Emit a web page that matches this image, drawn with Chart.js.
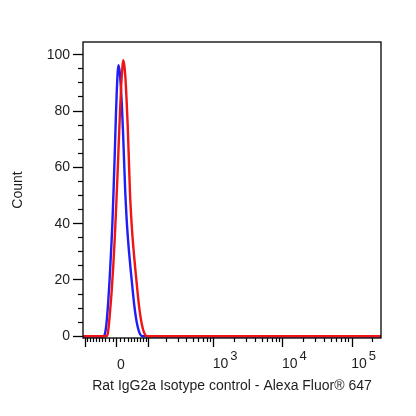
<!DOCTYPE html>
<html>
<head>
<meta charset="utf-8">
<script src="https://cdn.jsdelivr.net/npm/chart.js@4/dist/chart.umd.min.js"></script>
<style>
html, body { margin: 0; padding: 0; background: #fff; }
canvas { display: block; }
</style>
</head>
<body>
<canvas id="chart" width="416" height="416" style="width:416px;height:416px"></canvas>
<script>
// histogram channels in display units (asinh scale, 1 unit ~ 1 decade, 0 = zero intensity)
// counts are % of max
const blueX = [-0.2023, -0.1806, -0.1618, -0.1445, -0.1257, -0.1069, -0.0867, -0.0665, -0.0477,
               -0.0318, -0.0173, -0.0014, 0.0217, 0.0390, 0.0549, 0.0708, 0.0867, 0.1040,
               0.1199, 0.1373, 0.1561, 0.1777, 0.2023, 0.2283, 0.2500, 0.2717, 0.2934,
               0.3223, 0.3512, 0.3728];
const blueY = [0, 0.4, 2.5, 6.5, 12.5, 20, 29.5, 40, 53,
               65, 77, 88, 96.3, 94, 89, 82, 73, 61.5,
               51, 42.5, 35.5, 29, 22.5, 16, 11, 7, 4,
               1.4, 0.2, 0];
const redX = [-0.1590, -0.1373, -0.1185, -0.1012, -0.0766, -0.0535, -0.0318, -0.0116, 0.0072,
              0.0260, 0.0434, 0.0621, 0.0766, 0.0896, 0.1069, 0.1228, 0.1387, 0.1546,
              0.1720, 0.1879, 0.2052, 0.2240, 0.2457, 0.2702, 0.2962, 0.3179, 0.3396,
              0.3613, 0.3902, 0.4191, 0.4408];
const redY = [0, 0.5, 3.8, 8.5, 16, 25, 35, 46, 57,
              69, 79.5, 89.5, 95, 98, 96, 91.5, 84, 75,
              62.5, 51, 42.5, 35.5, 29, 22.5, 16, 11, 7,
              4, 1.4, 0.2, 0];

const yTicks = [0, 20, 40, 60, 80, 100];
const xMajor = [-100, 0, 100, 1000, 10000, 100000];
const xLabelValues = [0, 1000, 10000, 100000];
const xLabelBase = ["0", "10", "10", "10"];
const xLabelExp = ["", "3", "4", "5"];

const X_MIN = -0.491, X_MAX = 3.815;
const Y_MIN = -0.6, Y_MAX = 104.5;
const COF = 80;
const FONT = '"Liberation Sans", Arial, sans-serif';
const TEXT = '#1e1e1e';

function disp(v) {
    return Math.asinh(v / COF) / Math.LN10;
}

// minor ticks
let yMinor = [];
for (let v = 5; v < 105; v += 5) {
    if (v % 20 !== 0) yMinor.push(v);
}
let xMinor = [];
for (let k = 1; k <= 9; k++) { xMinor.push(k * 10); xMinor.push(-k * 10); }
[100, 1000, 10000, 100000].forEach(d => {
    for (let k = 2; k <= 9; k++) xMinor.push(k * d);
});

function series(xs, ys) {
    const pts = xs.map((x, i) => ({x: x, y: ys[i]}));
    return [{x: X_MIN, y: 0}].concat(pts, [{x: X_MAX, y: 0}]);
}

function setTicks(list) {
    return function(scale) {
        scale.ticks = list.filter(v => v >= scale.min && v <= scale.max).map(v => ({value: v}));
    };
}

const framePlugin = {
    id: 'frame',
    afterDraw(chart) {
        const ctx = chart.ctx;
        const a = chart.chartArea;
        const xs = chart.scales.x;
        ctx.save();
        ctx.strokeStyle = '#000';
        ctx.lineWidth = 1.3;
        ctx.strokeRect(a.left, a.top, a.right - a.left, a.bottom - a.top);

        ctx.fillStyle = TEXT;
        ctx.textBaseline = 'alphabetic';
        xLabelValues.forEach((v, i) => {
            const px = xs.getPixelForValue(disp(v));
            ctx.font = '14px ' + FONT;
            if (xLabelExp[i] === '') {
                ctx.textAlign = 'center';
                ctx.fillText(xLabelBase[i], px + 4, xs.top + 31);
            } else {
                ctx.textAlign = 'left';
                ctx.fillText(xLabelBase[i], px - 1, xs.top + 30);
                const w = ctx.measureText(xLabelBase[i]).width;
                ctx.font = '13px ' + FONT;
                ctx.fillText(xLabelExp[i], px + w + 1, xs.top + 22);
            }
        });
        ctx.restore();
    }
};

Chart.defaults.font.family = FONT;
Chart.defaults.color = TEXT;

const ctx = document.getElementById('chart').getContext('2d');
new Chart(ctx, {
    type: 'line',
    data: {
        datasets: [{
            data: series(redX, redY),
            borderColor: 'rgb(240,20,20)',
            borderWidth: 2.4,
            pointRadius: 0,
            fill: false,
            cubicInterpolationMode: 'monotone'
        }, {
            data: series(blueX, blueY),
            borderColor: 'rgb(30,30,245)',
            borderWidth: 2.4,
            pointRadius: 0,
            fill: false,
            cubicInterpolationMode: 'monotone'
        }]
    },
    options: {
        responsive: false,
        animation: false,
        layout: { padding: { top: 42, right: 35, left: 0, bottom: 0 } },
        plugins: { legend: { display: false }, tooltip: { enabled: false } },
        scales: {
            x: {
                type: 'linear', position: 'bottom', weight: 1,
                min: X_MIN, max: X_MAX,
                afterFit: s => { s.height = 78; },
                afterBuildTicks: setTicks(xMajor.map(disp)),
                ticks: { display: false },
                grid: { drawOnChartArea: false, drawTicks: true, tickLength: 9, tickColor: '#000', tickWidth: 1.3 },
                border: { display: false },
                title: {
                    display: true,
                    text: 'Rat IgG2a Isotype control - Alexa Fluor® 647',
                    font: { size: 14 },
                    color: TEXT,
                    padding: { top: 0, bottom: 21 }
                }
            },
            xMinor: {
                type: 'linear', position: 'bottom', weight: 0,
                min: X_MIN, max: X_MAX,
                afterFit: s => { s.height = 0; },
                afterBuildTicks: setTicks(xMinor.map(disp)),
                ticks: { display: false },
                grid: { drawOnChartArea: false, drawTicks: true, tickLength: 4, tickColor: '#000', tickWidth: 1.2 },
                border: { display: false }
            },
            y: {
                type: 'linear', position: 'left', weight: 1,
                min: Y_MIN, max: Y_MAX,
                afterFit: s => { s.width = 83; },
                afterBuildTicks: setTicks(yTicks),
                ticks: { padding: 3, font: { size: 14 }, color: TEXT },
                grid: { drawOnChartArea: false, drawTicks: true, tickLength: 10, tickColor: '#000', tickWidth: 1.3 },
                border: { display: false },
                title: {
                    display: true,
                    text: 'Count',
                    font: { size: 14 },
                    color: TEXT,
                    padding: { top: 10, bottom: 0 }
                }
            },
            yMinor: {
                type: 'linear', position: 'left', weight: 0,
                min: Y_MIN, max: Y_MAX,
                afterFit: s => { s.width = 0; },
                afterBuildTicks: setTicks(yMinor),
                ticks: { display: false },
                grid: { drawOnChartArea: false, drawTicks: true, tickLength: 5, tickColor: '#000', tickWidth: 1.2 },
                border: { display: false }
            }
        }
    },
    plugins: [framePlugin]
});
</script>
</body>
</html>
